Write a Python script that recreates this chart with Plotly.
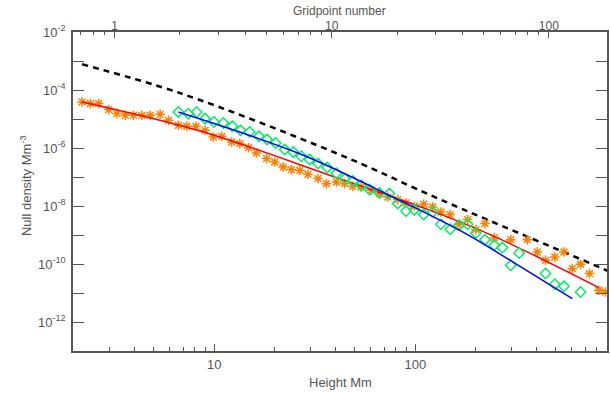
import plotly.graph_objects as go

# ---- data ----
# Black dashed reference line
dash_h = [2.2, 6.8, 40.5, 136, 845, 900]
dash_v = [7.7e-4, 7.7e-5, 6.6e-7, 1.57e-8, 7.1e-11, 5.8e-11]

# Orange asterisks
orange_h = [2.20, 2.42, 2.66, 2.98, 3.28, 3.61, 3.96, 4.36, 4.80, 5.38, 5.92, 6.63, 7.30, 8.11, 9.0,
            9.88, 10.9, 12.2, 13.4, 14.8, 16.2, 18.2, 20.0, 22.0, 24.2, 26.6, 29.2, 32.8, 36.1, 40.5,
            44.5, 48.9, 53.8, 60.3, 66.3, 72.9, 81.7, 89.9, 98.9, 110, 122, 134, 149, 165, 182,
            200, 222, 247, 298, 360, 404, 444, 494, 548, 603, 663, 735, 817, 882]
orange_v = [3.86e-5, 3.40e-5, 3.40e-5, 2.11e-5, 1.54e-5, 1.34e-5, 1.34e-5, 1.34e-5, 1.34e-5, 1.45e-5,
            9.0e-6, 6.07e-6, 5.6e-6, 5.6e-6, 4.07e-6, 2.39e-6, 2.53e-6, 1.61e-6, 1.42e-6, 1.03e-6,
            6.73e-7, 4.31e-7, 3.29e-7, 2.21e-7, 1.80e-7, 1.70e-7, 1.24e-7, 8.8e-8, 5.9e-8, 6.7e-8,
            5.9e-8, 4.78e-8, 4.52e-8, 3.48e-8, 2.68e-8, 2.04e-8, 1.66e-8, 1.27e-8, 9.8e-9, 1.15e-8,
            9.25e-9, 6.2e-9, 5.05e-9, 2.34e-9, 3.4e-9, 1.54e-9, 2.47e-9, 8.1e-10, 6.9e-10, 6.9e-10,
            2.6e-10, 1.34e-10, 1.74e-10, 2.6e-10, 6.9e-11, 9.8e-11, 4.67e-11, 1.24e-11, 1.08e-11]

# Red fit line
red_h = [2.20, 8.83, 40.5, 131, 261, 817]
red_v = [3.86e-5, 3.56e-6, 9.5e-8, 5.47e-9, 7.5e-10, 1.53e-11]

# Green diamonds
green_h = [6.63, 7.43, 8.18, 9.0, 9.98, 11.1, 12.3, 13.5, 15.0, 16.7, 18.3, 20.2, 22.4, 24.7, 27.1,
           29.8, 32.8, 36.4, 40.5, 44.5, 48.9, 53.8, 59.2, 66.3, 74.3, 81.7, 89.9, 98.9, 110, 122,
           134, 149, 165, 182, 200, 222, 247, 271, 298, 328, 444, 494, 548, 663]
green_v = [1.74e-5, 1.53e-5, 1.74e-5, 1.03e-5, 7.9e-6, 7.3e-6, 5.6e-6, 4.07e-6, 3.56e-6, 2.53e-6,
           1.95e-6, 1.49e-6, 8.8e-7, 7.3e-7, 5.2e-7, 3.98e-7, 2.9e-7, 2.11e-7, 1.34e-7, 8.8e-8,
           7.3e-8, 5.2e-8, 3.68e-8, 2.8e-8, 2.68e-8, 1.21e-8, 6.7e-9, 7.5e-9, 5.05e-9, 6.2e-9,
           2.34e-9, 1.57e-9, 2.16e-9, 2.34e-9, 1.17e-9, 6.9e-10, 4.4e-10, 3.68e-10, 9.0e-11, 2.39e-10,
           4.67e-11, 2.0e-11, 1.70e-11, 1.08e-11]

# Blue fit line
blue_h = [6.63, 26.6, 80.2, 178, 315, 603]
blue_v = [1.74e-5, 6.3e-7, 1.80e-8, 1.12e-9, 1.03e-10, 6.4e-12]

# Axis ticks
y_exps = list(range(-13, -1))
y_tickvals = [10.0 ** e for e in y_exps]
y_ticktext = [("10<sup>%d</sup>" % e) if e % 2 == 0 else "" for e in y_exps]
x_major = [10, 100]
x_minor = [2, 3, 4, 5, 6, 7, 8, 9, 20, 30, 40, 50, 60, 70, 80, 90, 200, 300, 400, 500, 600, 700, 800, 900]
top_major = [1, 10, 100]
top_minor = [0.7, 0.8, 0.9, 2, 3, 4, 5, 6, 7, 8, 9, 20, 30, 40, 50, 60, 70, 80, 90]

AX = "#555555"
TXT = "#555555"
FONT = "Liberation Sans"

fig = go.Figure()
fig.add_trace(go.Scatter(x=dash_h, y=dash_v, mode="lines",
                         line=dict(color="black", width=2.5, dash="6px,5px", shape="spline"),
                         showlegend=False, hoverinfo="skip"))
fig.add_trace(go.Scatter(x=orange_h, y=orange_v, mode="markers",
                         marker=dict(symbol="asterisk-open", size=8, color="#FF8000",
                                     line=dict(color="#FF8000", width=1.5)),
                         showlegend=False))
fig.add_trace(go.Scatter(x=red_h, y=red_v, mode="lines", line=dict(color="#FF0000", width=1.5, shape="spline"),
                         showlegend=False))
fig.add_trace(go.Scatter(x=green_h, y=green_v, mode="markers",
                         marker=dict(symbol="diamond-open", size=8, color="#00EE66",
                                     line=dict(color="#00EE66", width=1.5)),
                         showlegend=False))
fig.add_trace(go.Scatter(x=blue_h, y=blue_v, mode="lines", line=dict(color="#0000FF", width=1.5, shape="spline"),
                         showlegend=False))
# registers the top (gridpoint) axis; draws nothing
fig.add_trace(go.Scatter(x=top_major, y=[None] * len(top_major), xaxis="x2", mode="lines",
                         showlegend=False, hoverinfo="skip"))

fig.update_layout(
    width=610, height=393,
    margin=dict(l=73, r=1, t=32, b=42),
    paper_bgcolor="white", plot_bgcolor="white",
    font=dict(family=FONT, size=12, color=TXT),
    xaxis=dict(type="log", range=[0.2975, 2.953], showgrid=False, zeroline=False,
               showline=True, linecolor=AX, linewidth=1.5,
               ticks="inside", ticklen=7, tickcolor=AX, tickwidth=1,
               tickvals=x_major, ticktext=["10", "100"], tickfont=dict(size=13),
               ticklabelstandoff=1,
               minor=dict(tickvals=x_minor, ticks="inside", ticklen=4, tickcolor=AX, tickwidth=1)),
    xaxis2=dict(type="log", range=[-0.191, 2.268], overlaying="x", side="top", anchor="y",
                showgrid=False, zeroline=False, showline=True, linecolor=AX, linewidth=1.5,
                ticks="inside", ticklen=6, tickcolor=AX, tickwidth=1,
                tickvals=top_major, ticktext=["1", "10", "100"], tickfont=dict(size=12),
                ticklabelstandoff=-5,
                minor=dict(tickvals=top_minor, ticks="inside", ticklen=3, tickcolor=AX, tickwidth=1)),
    yaxis=dict(type="log", range=[-13, -2], showgrid=False, zeroline=False,
               showline=True, linecolor=AX, linewidth=1.5, mirror="ticks",
               ticks="inside", ticklen=11, tickcolor=AX, tickwidth=1,
               tickvals=y_tickvals, ticktext=y_ticktext, tickfont=dict(size=13),
               ticklabelstandoff=3),
    annotations=[
        dict(text="Height Mm", xref="paper", yref="paper", x=0.501, y=-0.100,
             showarrow=False, font=dict(size=13, color=TXT), xanchor="center", yanchor="middle"),
        dict(text="Gridpoint number", xref="paper", yref="paper", x=0.499, y=1.066,
             showarrow=False, font=dict(size=12, color=TXT), xanchor="center", yanchor="middle"),
        dict(text="Null density Mm<sup>-3</sup>", xref="paper", yref="paper", x=-0.088, y=0.517,
             textangle=-90, showarrow=False, font=dict(size=13, color=TXT),
             xanchor="center", yanchor="middle"),
    ],
)

fig.write_html("out.html")
